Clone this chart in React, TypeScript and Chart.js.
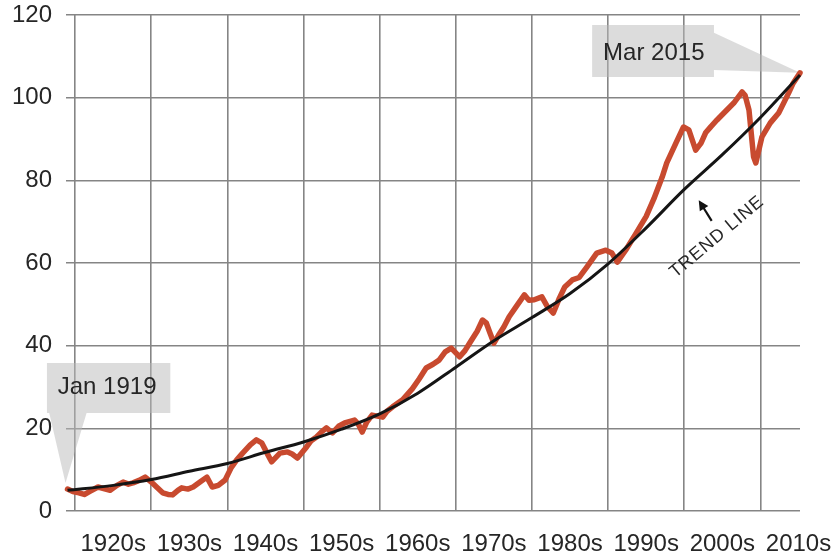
import { useEffect, useRef } from "react";
import { Chart, registerables } from "chart.js";

Chart.register(...registerables);

// ---- data ----
const indexYears = [
  1919.0, 1919.7, 1920.5, 1921.2, 1922.0, 1923.0, 1924.0, 1924.6, 1925.5, 1926.3,
  1927.0, 1927.6, 1928.4, 1929.2, 1930.0, 1930.8, 1931.5, 1932.2, 1932.8, 1933.5,
  1934.0, 1934.8, 1935.5, 1936.4, 1937.3, 1938.0, 1938.8, 1939.7, 1940.5, 1941.2,
  1942.0, 1943.0, 1943.8, 1944.5, 1945.2, 1945.8, 1946.9, 1947.9, 1948.5, 1949.2,
  1950.4, 1951.0, 1951.7, 1952.4, 1953.0, 1953.8, 1954.6, 1955.4, 1956.7, 1957.2,
  1957.7, 1958.3, 1959.0, 1960.4, 1961.0, 1961.7, 1963.0, 1964.3, 1965.2, 1966.1,
  1967.0, 1967.8, 1968.6, 1969.4, 1970.5, 1971.2, 1971.8, 1972.8, 1973.5, 1974.0,
  1974.5, 1975.0, 1975.6, 1976.3, 1977.0, 1977.9, 1979.0, 1979.6, 1980.3, 1981.3,
  1982.0, 1982.8, 1983.6, 1984.3, 1985.3, 1986.2, 1987.2, 1988.5, 1989.7, 1990.5,
  1991.2, 1992.3, 1993.7, 1995.0, 1996.0, 1997.1, 1997.7, 1998.9, 1999.9, 2000.6,
  2001.5, 2002.2, 2002.8, 2003.5, 2004.3, 2005.2, 2006.5, 2007.6, 2008.0, 2008.5,
  2009.1, 2009.4, 2010.2, 2011.3, 2012.4, 2013.0, 2013.7, 2014.3, 2015.2,
];
const indexValues = [
  5.3, 4.7, 4.4, 4.0, 4.8, 5.8, 5.3, 5.0, 6.2, 7.0,
  6.5, 6.8, 7.4, 8.2, 7.0, 5.6, 4.4, 4.0, 3.9, 5.0,
  5.6, 5.3, 5.8, 7.0, 8.2, 5.8, 6.2, 7.5, 10.5, 12.3,
  14.0, 16.0, 17.2, 16.5, 14.0, 11.9, 14.0, 14.3, 13.8, 12.8,
  15.5, 17.0, 17.9, 19.2, 20.1, 18.9, 20.5, 21.3, 22.0, 21.0,
  19.1, 21.5, 23.2, 22.7, 24.2, 25.2, 26.9, 29.6, 32.0, 34.6,
  35.5, 36.5, 38.5, 39.4, 37.3, 38.8, 40.6, 43.5, 46.2, 45.5,
  43.0, 40.6, 42.5, 44.5, 47.0, 49.4, 52.3, 51.0, 51.1, 51.8,
  49.5, 47.9, 51.5, 54.2, 55.9, 56.5, 59.0, 62.4, 63.1, 62.4,
  60.2, 63.1, 67.3, 71.3, 75.5, 80.8, 84.2, 89.0, 92.9, 92.2,
  87.3, 89.0, 91.5, 93.0, 94.6, 96.3, 98.7, 101.4, 100.5, 97.0,
  85.7, 84.2, 90.5, 93.9, 96.3, 98.5, 101.1, 103.5, 106.0,
];

const trendYears = [
  1919, 1925, 1930, 1935, 1940, 1945, 1950, 1955, 1960, 1965,
  1970, 1975, 1980, 1985, 1990, 1995, 2000, 2005, 2010, 2015.2,
];
const trendValues = [
  5.0, 6.2, 7.6, 9.6, 11.5, 14.2, 16.7, 19.8, 23.5, 28.5,
  34.8, 41.2, 46.8, 52.6, 59.8, 68.5, 77.8, 86.2, 95.2, 105.5,
];

const decadeGridYears = [1920, 1930, 1940, 1950, 1960, 1970, 1980, 1990, 2000, 2010];
const decadeLabelYears = [1925, 1935, 1945, 1955, 1965, 1975, 1985, 1995, 2005, 2015];
const decadeLabels = ["1920s", "1930s", "1940s", "1950s", "1960s", "1970s", "1980s", "1990s", "2000s", "2010s"];
const yTickValues = [0, 20, 40, 60, 80, 100, 120];

const startLabel = "Jan 1919";
const endLabel = "Mar 2015";
const trendLabel = "TREND LINE";

// ---- styling ----
const FONT = "'Liberation Sans', Arial, Helvetica, sans-serif";
const RED = "#c84a2f";
const GRID = "#858585";
const TEXT = "#262626";
const BOX = "rgba(185,185,185,0.5)";

const annotationPlugin = {
  id: "calloutAnnotations",
  beforeDatasetsDraw(chart: any) {
    const { ctx } = chart;
    const xs = chart.scales.x;
    const ys = chart.scales.y;
    const px = (v: number) => xs.getPixelForValue(v);
    const py = (v: number) => ys.getPixelForValue(v);
    const firstX = indexYears[0];
    const firstY = indexValues[0];
    const lastX = indexYears[indexYears.length - 1];
    const lastY = indexValues[indexValues.length - 1];

    ctx.save();
    ctx.fillStyle = BOX;
    ctx.beginPath();
    // start callout box
    ctx.rect(px(1916.3), py(35.8), px(1932.5) - px(1916.3), py(23.7) - py(35.8));
    ctx.moveTo(px(1916.6), py(23.7));
    ctx.lineTo(px(1921.5), py(23.7));
    ctx.lineTo(px(firstX) - 2, py(firstY + 1.5));
    ctx.closePath();
    // end callout box
    ctx.rect(px(1987.9), py(117.6), px(2003.9) - px(1987.9), py(105.0) - py(117.6));
    ctx.moveTo(px(2003.9), py(115.7));
    ctx.lineTo(px(lastX), py(lastY));
    ctx.lineTo(px(2003.9), py(106.7));
    ctx.closePath();
    ctx.fill("nonzero");

    ctx.fillStyle = TEXT;
    ctx.font = `24px ${FONT}`;
    ctx.textAlign = "center";
    ctx.textBaseline = "middle";
    ctx.fillText(startLabel, px(1924.2), py(29.8));
    ctx.fillText(endLabel, px(1996.0), py(110.8));
    ctx.restore();
  },
  afterDatasetsDraw(chart: any) {
    const { ctx } = chart;
    const xs = chart.scales.x;
    const ys = chart.scales.y;
    const px = (v: number) => xs.getPixelForValue(v);
    const py = (v: number) => ys.getPixelForValue(v);
    ctx.save();
    // rotated trend label
    ctx.translate(px(2004.3), py(66.3));
    ctx.rotate((-40 * Math.PI) / 180);
    ctx.fillStyle = TEXT;
    ctx.font = `18px ${FONT}`;
    try {
      (ctx as any).letterSpacing = "1px";
    } catch (e) {}
    ctx.textAlign = "center";
    ctx.textBaseline = "middle";
    ctx.fillText(trendLabel, 0, 0);
    ctx.restore();

    // arrow
    ctx.save();
    const hx = px(2001.9), hy = py(75.2);
    const tx = px(2003.6), ty = py(70.2);
    const ang = Math.atan2(hy - ty, hx - tx);
    ctx.strokeStyle = "#111";
    ctx.fillStyle = "#111";
    ctx.lineWidth = 2.2;
    ctx.beginPath();
    ctx.moveTo(tx, ty);
    ctx.lineTo(hx - 6 * Math.cos(ang), hy - 6 * Math.sin(ang));
    ctx.stroke();
    ctx.beginPath();
    ctx.moveTo(hx, hy);
    ctx.lineTo(hx - 10 * Math.cos(ang) + 5 * Math.sin(ang), hy - 10 * Math.sin(ang) - 5 * Math.cos(ang));
    ctx.lineTo(hx - 10 * Math.cos(ang) - 5 * Math.sin(ang), hy - 10 * Math.sin(ang) + 5 * Math.cos(ang));
    ctx.closePath();
    ctx.fill();
    ctx.restore();
  },
};

const zeroPadding = (scale: any) => {
  scale.paddingTop = 0;
  scale.paddingBottom = 0;
  scale.paddingLeft = 0;
  scale.paddingRight = 0;
};

export default function App() {
  const canvasRef = useRef<HTMLCanvasElement | null>(null);

  useEffect(() => {
    document.body.style.margin = "0";
    const canvas = canvasRef.current;
    if (!canvas) return;

    const indexData = indexYears.map((x, i) => ({ x, y: indexValues[i] }));
    const trendData = trendYears.map((x, i) => ({ x, y: trendValues[i] }));
    const tickYears = [...decadeGridYears, ...decadeLabelYears].sort((a, b) => a - b);

    const chart = new Chart(canvas, {
      type: "line",
      data: {
        datasets: [
          {
            label: "Trend line",
            data: trendData,
            borderColor: "#151515",
            borderWidth: 3,
            pointRadius: 0,
            cubicInterpolationMode: "monotone",
            fill: false,
          },
          {
            label: "Index",
            data: indexData,
            borderColor: RED,
            borderWidth: 5.5,
            pointRadius: 0,
            tension: 0,
            borderJoinStyle: "round",
            borderCapStyle: "round",
            fill: false,
          },
        ],
      },
      options: {
        animation: false,
        responsive: true,
        maintainAspectRatio: false,
        layout: { padding: { top: 15, right: 36, left: 0, bottom: 0 } },
        plugins: {
          legend: { display: false },
          tooltip: { enabled: false },
        },
        datasets: { line: { clip: false } as any },
        scales: {
          x: {
            type: "linear",
            min: 1918.8,
            max: 2015.2,
            afterBuildTicks: (scale: any) => {
              scale.ticks = tickYears.map((v) => ({ value: v }));
            },
            afterFit: (scale: any) => {
              scale.height = 48;
              zeroPadding(scale);
            },
            border: { display: false },
            grid: {
              drawTicks: false,
              lineWidth: 1.6,
              color: (c: any) =>
                c.tick && decadeGridYears.includes(c.tick.value) ? GRID : "rgba(0,0,0,0)",
            },
            ticks: {
              autoSkip: false,
              maxRotation: 0,
              minRotation: 0,
              padding: 19,
              color: TEXT,
              font: { family: FONT, size: 24 },
              callback: (v: any) => {
                const i = decadeLabelYears.indexOf(Number(v));
                return i >= 0 ? decadeLabels[i] : "";
              },
            },
          },
          y: {
            type: "linear",
            min: 0,
            max: 120,
            afterBuildTicks: (scale: any) => {
              scale.ticks = yTickValues.map((v) => ({ value: v }));
            },
            afterFit: (scale: any) => {
              scale.width = 66;
              zeroPadding(scale);
            },
            border: { display: false },
            grid: { drawTicks: false, lineWidth: 1.6, color: GRID },
            ticks: {
              padding: 14,
              color: TEXT,
              font: { family: FONT, size: 24 },
            },
          },
        },
      },
      plugins: [annotationPlugin],
    });

    return () => chart.destroy();
  }, []);

  return (
    <div style={{ width: 836, height: 559, position: "relative" }}>
      <canvas ref={canvasRef} />
    </div>
  );
}
